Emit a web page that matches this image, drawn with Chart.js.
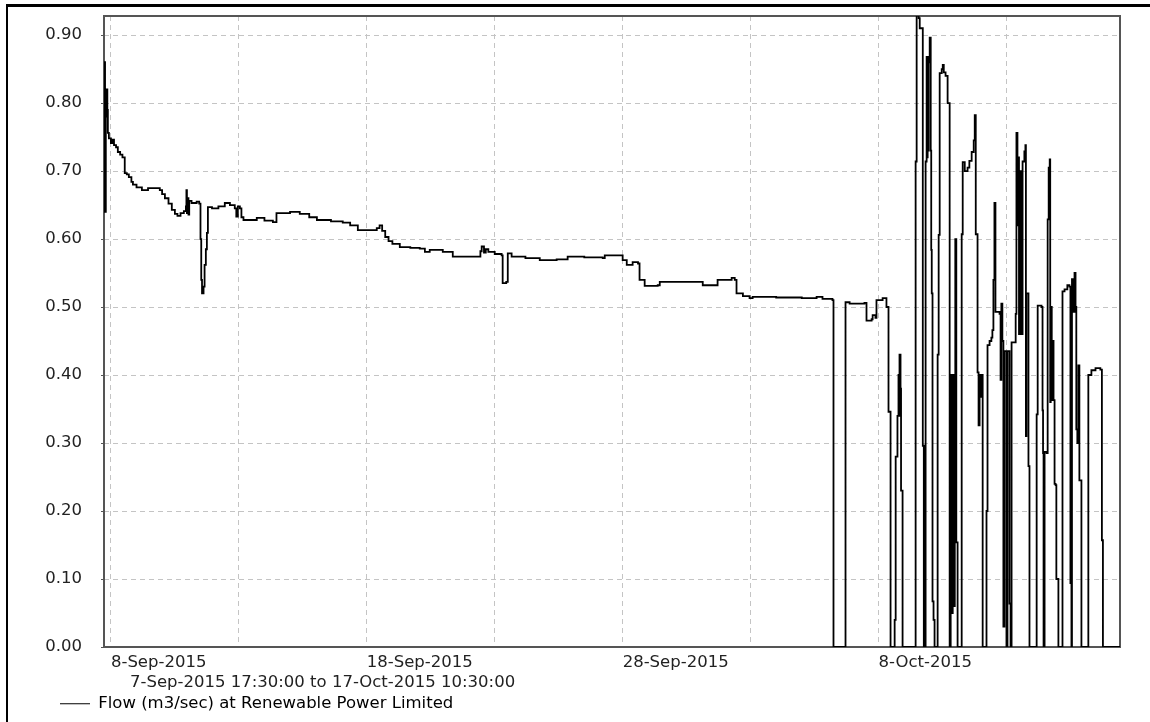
<!DOCTYPE html>
<html><head><meta charset="utf-8">
<script src="https://cdn.jsdelivr.net/npm/chart.js@4.4.1/dist/chart.umd.min.js"></script>
<style>
html,body{margin:0;padding:0;background:#fff;}
#wrap{position:relative;width:1150px;height:722px;overflow:hidden;}
canvas{position:absolute;left:0;top:0;}
#frame{position:absolute;left:6px;top:4px;right:0;bottom:0;border-top:3px solid #000;border-left:2px solid #000;pointer-events:none;}
</style></head><body>
<div id="wrap"><canvas id="c" width="1150" height="722"></canvas><div id="frame"></div></div>
<script>
// Time axis in decimal day numbers: September days as-is, October days = 30 + day.
const seriesLabel = 'Flow (m3/sec) at Renewable Power Limited';
const rangeLabel = '7-Sep-2015 17:30:00 to 17-Oct-2015 10:30:00';
const xStart = 7 + 17.5 / 24;      // 7-Sep-2015 17:30
const xEnd = 30 + 17 + 10.5 / 24;  // 17-Oct-2015 10:30
const gridDays = [8, 13, 18, 23, 28, 33, 38, 43];
const labelDays = [8, 18, 28, 38];
const yTicks = [0, 0.1, 0.2, 0.3, 0.4, 0.5, 0.6, 0.7, 0.8, 0.9];

const days = [
 7.73,7.74,7.75,7.76,7.77,7.78,7.79,7.8,7.82,7.84,7.86,7.88,7.92,8.0,8.06,8.12,8.2,8.27,8.36,8.45,8.54,8.62,
 8.7,8.8,8.86,9.0,9.21,9.45,9.7,9.91,10.0,10.11,10.25,10.38,10.5,10.6,10.72,10.85,10.93,10.95,10.97,11.0,
 11.03,11.06,11.15,11.35,11.45,11.5,11.53,11.56,11.62,11.66,11.71,11.75,11.79,11.95,12.2,12.45,12.65,12.84,12.9,12.96,
 13.04,13.1,13.18,13.7,14.0,14.33,14.47,15.0,15.38,15.75,16.05,16.6,17.06,17.35,17.65,18.0,18.39,18.5,18.6,18.72,
 18.85,19.0,19.29,19.7,20.07,20.27,20.46,20.97,21.36,22.3,22.44,22.49,22.58,22.65,22.75,23.0,23.27,23.31,23.45,23.51,
 23.66,24.2,24.76,25.42,25.85,26.5,27.22,27.3,27.88,28.0,28.16,28.39,28.6,28.66,28.86,29.37,29.45,30.5,31.13,31.52,
 31.71,32.26,32.38,32.45,32.7,32.96,33.08,34.0,35.0,35.58,35.81,36.2,36.24,36.71,36.87,37.45,37.53,37.73,37.77,37.88,
 37.92,38.16,38.31,38.39,38.47,38.63,38.67,38.74,38.78,38.8,38.82,38.86,38.88,38.94,39.45,39.49,39.57,39.61,39.73,39.77,
 39.84,39.88,39.9,39.92,39.94,39.96,40.0,40.04,40.06,40.08,40.11,40.15,40.19,40.31,40.35,40.39,40.47,40.51,40.55,40.62,
 40.7,40.78,40.82,40.86,40.9,40.94,40.98,41.0,41.04,41.09,41.25,41.29,41.37,41.48,41.55,41.64,41.72,41.76,41.8,41.87,
 41.91,41.95,41.99,42.03,42.07,42.22,42.26,42.34,42.41,42.45,42.49,42.53,42.57,42.73,42.77,42.8,42.84,42.88,42.92,43.0,
 43.04,43.12,43.16,43.2,43.36,43.39,43.43,43.47,43.49,43.55,43.59,43.63,43.7,43.74,43.76,43.78,43.86,43.9,44.18,44.22,
 44.37,44.41,44.43,44.45,44.49,44.57,44.61,44.65,44.69,44.71,44.73,44.77,44.8,44.84,44.88,44.92,44.95,45.03,45.19,45.27,
 45.38,45.46,45.5,45.54,45.56,45.62,45.66,45.7,45.73,45.77,45.81,45.85,45.93,46.2,46.32,46.48,46.63,46.67,46.73,46.77,
 47.4375
];
const flows = [
 0.64,0.86,0.64,0.86,0.66,0.82,0.64,0.82,0.78,0.82,0.79,0.756,0.748,0.741,0.746,0.738,0.735,0.728,0.724,0.72,0.697,0.695,
 0.691,0.684,0.68,0.676,0.672,0.675,0.675,0.672,0.666,0.66,0.652,0.643,0.637,0.634,0.638,0.641,0.648,0.672,0.638,0.66,
 0.636,0.656,0.653,0.655,0.652,0.6,0.54,0.52,0.53,0.562,0.585,0.609,0.647,0.645,0.648,0.653,0.65,0.645,0.633,0.648,
 0.645,0.632,0.628,0.631,0.627,0.625,0.638,0.64,0.637,0.632,0.628,0.626,0.624,0.62,0.613,0.613,0.616,0.62,0.612,0.603,
 0.597,0.593,0.588,0.587,0.586,0.581,0.584,0.581,0.574,0.574,0.582,0.589,0.58,0.585,0.581,0.578,0.576,0.535,0.537,0.579,
 0.574,0.572,0.569,0.57,0.574,0.573,0.572,0.576,0.576,0.569,0.562,0.566,0.564,0.54,0.531,0.532,0.537,0.537,0.532,0.532,
 0.54,0.543,0.54,0.52,0.516,0.513,0.515,0.514,0.513,0.515,0.512,0.51,0,0.507,0.505,0.506,0.48,0.482,0.488,0.484,
 0.51,0.513,0.5,0.346,0,0.04,0.28,0.34,0.4,0.34,0.43,0.38,0.23,0,0.714,0.93,0.925,0.91,0.296,0,
 0.714,0.868,0.72,0.868,0.73,0.86,0.896,0.73,0.584,0.52,0.067,0.04,0,0.43,0.606,0.844,0.85,0.856,0.845,0.84,
 0.8,0,0.4,0.05,0.4,0.06,0.4,0.6,0.154,0,0.607,0.713,0.7,0.705,0.715,0.728,0.745,0.782,0.607,0.404,
 0.326,0.4,0.368,0.4,0,0.2,0.444,0.45,0.455,0.466,0.54,0.653,0.493,0.49,0.393,0.505,0.45,0.03,0.435,0,
 0.435,0.064,0,0.448,0.49,0.756,0.62,0.72,0.46,0.7,0.46,0.714,0.729,0.738,0.31,0.52,0.266,0,0.342,0.502,
 0.5,0.348,0.285,0,0.287,0.285,0.629,0.705,0.717,0.36,0.5,0.363,0.45,0.363,0.24,0.238,0.1,0,0.523,0.526,
 0.532,0.53,0.094,0,0.541,0.493,0.55,0.5,0.32,0.3,0.414,0.245,0,0.4,0.407,0.41,0.41,0.408,0.157,0,
 0
];

const FONT = "'DejaVu Sans', 'Liberation Sans', sans-serif";
const TEXT = '#222';
const GRID = '#c4c4c4';

function dayLabel(v) {
  return v <= 30 ? v + '-Sep-2015' : (v - 30) + '-Oct-2015';
}

const plotFrame = {
  id: 'plotFrame',
  beforeDatasetsDraw(chart) {
    const {ctx, chartArea: a} = chart;
    ctx.save();
    ctx.strokeStyle = '#555';
    ctx.lineWidth = 2;
    ctx.strokeRect(a.left, a.top, a.right - a.left, a.bottom - a.top);
    ctx.restore();
  }
};
const rangeText = {
  id: 'rangeText',
  afterDraw(chart) {
    const {ctx, chartArea: a} = chart;
    ctx.save();
    ctx.font = '16.5px ' + FONT;
    ctx.fillStyle = TEXT;
    ctx.textAlign = 'left';
    ctx.textBaseline = 'middle';
    ctx.fillText(rangeLabel, a.left + 26, a.bottom + 36);
    ctx.restore();
  }
};

new Chart(document.getElementById('c'), {
  type: 'line',
  data: {
    datasets: [{
      label: seriesLabel,
      data: days.map((d, i) => ({x: d, y: flows[i]})),
      borderColor: '#000',
      backgroundColor: '#000',
      borderWidth: 1.8,
      pointRadius: 0,
      stepped: true,
      fill: false
    }]
  },
  options: {
    responsive: false,
    animation: false,
    events: [],
    layout: {padding: {left: 40, top: 16, right: 30, bottom: 0}},
    scales: {
      x: {
        type: 'linear',
        min: xStart,
        max: xEnd,
        afterBuildTicks: s => { s.ticks = gridDays.map(v => ({value: v})); },
        afterFit: s => { s.height = 28.5; s.paddingLeft = 0; s.paddingRight = 0; },
        ticks: {
          autoSkip: false, maxRotation: 0, minRotation: 0, align: 'start', padding: 6,
          color: TEXT, font: {family: FONT, size: 16.5},
          callback: v => labelDays.includes(v) ? dayLabel(v) : ''
        },
        grid: {color: GRID, drawTicks: false, lineWidth: 1},
        border: {display: false, dash: [5, 4]}
      },
      y: {
        type: 'linear',
        min: 0,
        max: 0.928,
        afterBuildTicks: s => { s.ticks = yTicks.map(v => ({value: v})); },
        afterFit: s => { s.width = 64; s.paddingTop = 0; s.paddingBottom = 0; },
        ticks: {
          padding: 19, color: TEXT, font: {family: FONT, size: 16.5},
          callback: v => Number(v).toFixed(2)
        },
        grid: {color: GRID, drawTicks: true, tickLength: 3, tickColor: '#555', tickBorderDash: [], lineWidth: 1},
        border: {display: false, dash: [5, 4]}
      }
    },
    plugins: {
      tooltip: {enabled: false},
      title: {display: false},
      legend: {
        display: true,
        position: 'bottom',
        align: 'start',
        labels: {
          boxWidth: 30, boxHeight: 1, padding: 20, color: TEXT,
          font: {family: FONT, size: 16.5},
          generateLabels: () => [{text: seriesLabel, fillStyle: '#000', strokeStyle: '#000', lineWidth: 0, hidden: false, datasetIndex: 0}]
        }
      }
    }
  },
  plugins: [plotFrame, rangeText]
});
</script>
</body></html>
